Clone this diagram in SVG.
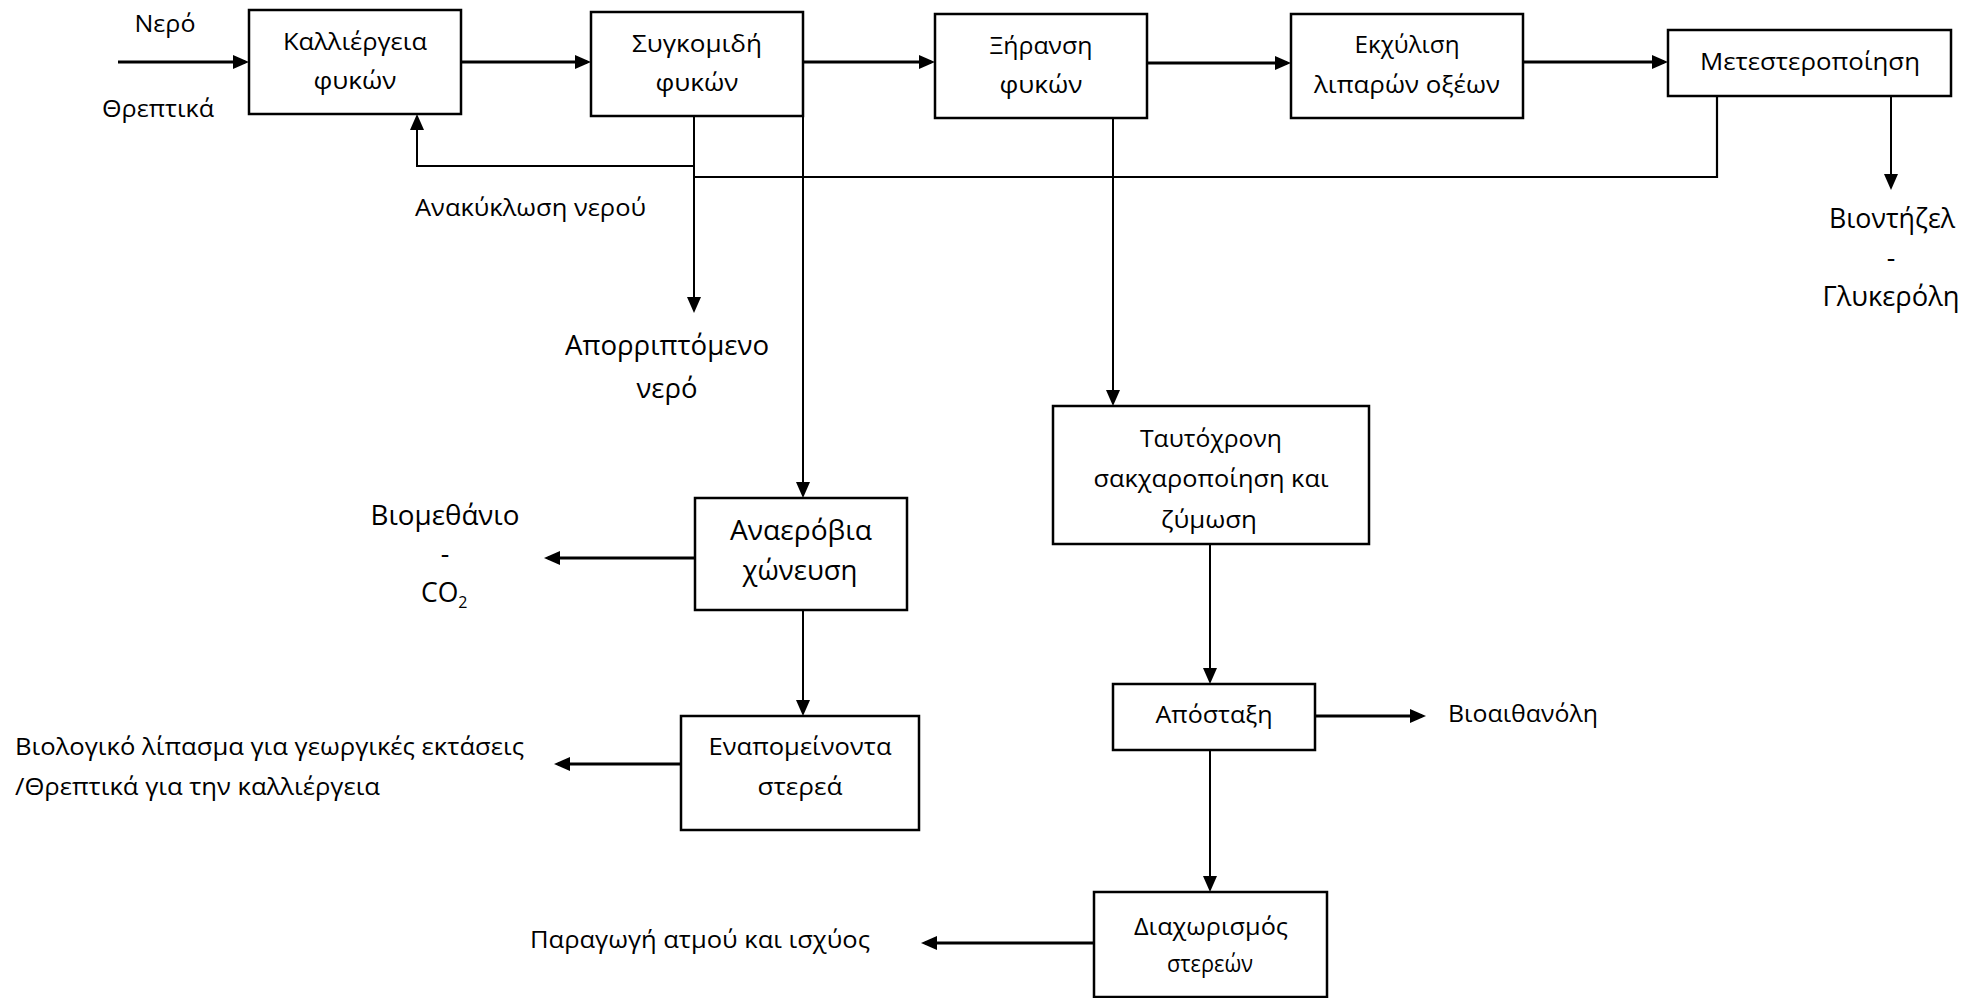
<svg xmlns="http://www.w3.org/2000/svg" width="1983" height="998" viewBox="0 0 1983 998">
  <defs>
    <style>
      .t { font-family: "Open Sans", "Noto Sans", "DejaVu Sans", sans-serif; font-size: 24px; fill: #000; }
      .lg { font-size: 26.5px; }
      .box { fill: #fff; stroke: #000; stroke-width: 2.5; }
      .h { fill: none; stroke: #000; stroke-width: 3.2; marker-end: url(#arrow); }
      .v { fill: none; stroke: #000; stroke-width: 2; marker-end: url(#arrow); }
      .ln { fill: none; stroke: #000; stroke-width: 2.2; }
    </style>
    <marker id="arrow" markerUnits="userSpaceOnUse" markerWidth="16" markerHeight="16" viewBox="0 0 16 14" refX="12" refY="7" orient="auto">
      <path d="M0,0 L16,7 L0,14 z" fill="#000"/>
    </marker>
  </defs>

  <rect width="1983" height="998" fill="#fff"/>

  <!-- connectors -->
  <g id="connectors">
    <!-- main process line -->
    <line class="h" x1="118" y1="62" x2="245" y2="62"/>
    <line class="h" x1="461" y1="62" x2="587" y2="62"/>
    <line class="h" x1="803" y1="62" x2="931" y2="62"/>
    <line class="h" x1="1147" y1="63" x2="1287" y2="63"/>
    <line class="h" x1="1523" y1="62" x2="1664" y2="62"/>
    <!-- water recycle loop -->
    <polyline class="v" points="694,166 417,166 417,118"/>
    <polyline class="ln" points="1717,96 1717,177 694,177"/>
    <line class="v" x1="694" y1="116" x2="694" y2="309"/>
    <!-- product streams -->
    <line class="v" x1="1891" y1="96" x2="1891" y2="186"/>
    <line class="v" x1="803" y1="116" x2="803" y2="494"/>
    <line class="v" x1="1113" y1="118" x2="1113" y2="402"/>
    <line class="h" x1="695" y1="558" x2="548" y2="558"/>
    <line class="v" x1="803" y1="610" x2="803" y2="712"/>
    <line class="h" x1="681" y1="764" x2="558" y2="764"/>
    <line class="v" x1="1210" y1="544" x2="1210" y2="680"/>
    <line class="h" x1="1315" y1="716" x2="1422" y2="716"/>
    <line class="v" x1="1210" y1="750" x2="1210" y2="888"/>
    <line class="h" x1="1094" y1="943" x2="925" y2="943"/>
  </g>

  <!-- free labels -->
  <g id="labels">
    <text class="t" x="165" y="32" text-anchor="middle" textLength="61" lengthAdjust="spacingAndGlyphs">Νερό</text>
    <text class="t" x="158" y="117" text-anchor="middle" textLength="112" lengthAdjust="spacingAndGlyphs">Θρεπτικά</text>
    <text class="t" x="415" y="216" textLength="231" lengthAdjust="spacingAndGlyphs">Ανακύκλωση νερού</text>
    <text class="t lg" x="667" y="355" text-anchor="middle" textLength="204" lengthAdjust="spacingAndGlyphs">Απορριπτόμενο</text>
    <text class="t lg" x="667" y="398" text-anchor="middle" textLength="61" lengthAdjust="spacingAndGlyphs">νερό</text>
    <text class="t lg" x="1892" y="228" text-anchor="middle" textLength="126" lengthAdjust="spacingAndGlyphs">Βιοντήζελ</text>
    <text class="t lg" x="1891" y="267" text-anchor="middle">-</text>
    <text class="t lg" x="1891" y="306" text-anchor="middle" textLength="137" lengthAdjust="spacingAndGlyphs">Γλυκερόλη</text>
    <text class="t lg" x="445" y="525" text-anchor="middle" textLength="149" lengthAdjust="spacingAndGlyphs">Βιομεθάνιο</text>
    <text class="t lg" x="445" y="563" text-anchor="middle">-</text>
    <text class="t lg" x="421" y="602">CO<tspan font-size="16" dy="6">2</tspan></text>
    <text class="t" x="15" y="755" textLength="509" lengthAdjust="spacingAndGlyphs">Βιολογικό λίπασμα για γεωργικές εκτάσεις</text>
    <text class="t" x="15" y="795" textLength="365" lengthAdjust="spacingAndGlyphs">/Θρεπτικά για την καλλιέργεια</text>
    <text class="t" x="1448" y="722" textLength="150" lengthAdjust="spacingAndGlyphs">Βιοαιθανόλη</text>
    <text class="t" x="530" y="948" textLength="340" lengthAdjust="spacingAndGlyphs">Παραγωγή ατμού και ισχύος</text>
  </g>

  <!-- process units -->
  <g id="n-cultivation">
    <rect class="box" x="249" y="10" width="212" height="104"/>
    <text class="t" x="355" y="50" text-anchor="middle" textLength="144" lengthAdjust="spacingAndGlyphs">Καλλιέργεια</text>
    <text class="t" x="355" y="89" text-anchor="middle" textLength="83" lengthAdjust="spacingAndGlyphs">φυκών</text>
  </g>
  <g id="n-harvest">
    <rect class="box" x="591" y="12" width="212" height="104"/>
    <text class="t" x="697" y="52" text-anchor="middle" textLength="130" lengthAdjust="spacingAndGlyphs">Συγκομιδή</text>
    <text class="t" x="697" y="91" text-anchor="middle" textLength="83" lengthAdjust="spacingAndGlyphs">φυκών</text>
  </g>
  <g id="n-drying">
    <rect class="box" x="935" y="14" width="212" height="104"/>
    <text class="t" x="1041" y="54" text-anchor="middle" textLength="103" lengthAdjust="spacingAndGlyphs">Ξήρανση</text>
    <text class="t" x="1041" y="93" text-anchor="middle" textLength="83" lengthAdjust="spacingAndGlyphs">φυκών</text>
  </g>
  <g id="n-extraction">
    <rect class="box" x="1291" y="14" width="232" height="104"/>
    <text class="t" x="1407" y="53" text-anchor="middle" textLength="105" lengthAdjust="spacingAndGlyphs">Εκχύλιση</text>
    <text class="t" x="1407" y="93" text-anchor="middle" textLength="186" lengthAdjust="spacingAndGlyphs">λιπαρών οξέων</text>
  </g>
  <g id="n-transesterification">
    <rect class="box" x="1668" y="30" width="283" height="66"/>
    <text class="t" x="1810" y="70" text-anchor="middle" textLength="220" lengthAdjust="spacingAndGlyphs">Μετεστεροποίηση</text>
  </g>
  <g id="n-ssf">
    <rect class="box" x="1053" y="406" width="316" height="138"/>
    <text class="t" x="1211" y="447" text-anchor="middle" textLength="142" lengthAdjust="spacingAndGlyphs">Ταυτόχρονη</text>
    <text class="t" x="1211" y="487" text-anchor="middle" textLength="235" lengthAdjust="spacingAndGlyphs">σακχαροποίηση και</text>
    <text class="t" x="1209" y="528" text-anchor="middle" textLength="96" lengthAdjust="spacingAndGlyphs">ζύμωση</text>
  </g>
  <g id="n-anaerobic">
    <rect class="box" x="695" y="498" width="212" height="112"/>
    <text class="t lg" x="801" y="540" text-anchor="middle" textLength="142" lengthAdjust="spacingAndGlyphs">Αναερόβια</text>
    <text class="t lg" x="800" y="580" text-anchor="middle" textLength="115" lengthAdjust="spacingAndGlyphs">χώνευση</text>
  </g>
  <g id="n-residual">
    <rect class="box" x="681" y="716" width="238" height="114"/>
    <text class="t" x="800" y="755" text-anchor="middle" textLength="183" lengthAdjust="spacingAndGlyphs">Εναπομείνοντα</text>
    <text class="t" x="800" y="795" text-anchor="middle" textLength="85" lengthAdjust="spacingAndGlyphs">στερεά</text>
  </g>
  <g id="n-distillation">
    <rect class="box" x="1113" y="684" width="202" height="66"/>
    <text class="t" x="1214" y="723" text-anchor="middle" textLength="117" lengthAdjust="spacingAndGlyphs">Απόσταξη</text>
  </g>
  <g id="n-separation">
    <rect class="box" x="1094" y="892" width="233" height="105"/>
    <text class="t" x="1211" y="935" text-anchor="middle" textLength="154" lengthAdjust="spacingAndGlyphs">Διαχωρισμός</text>
    <text class="t" x="1210" y="972" text-anchor="middle" textLength="86" lengthAdjust="spacingAndGlyphs">στερεών</text>
  </g>
</svg>
